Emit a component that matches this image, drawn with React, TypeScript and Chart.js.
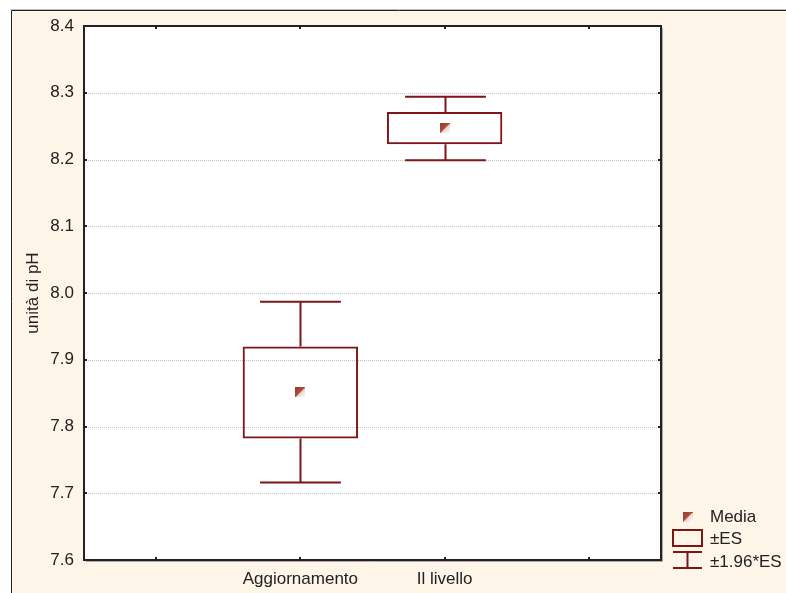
import React, { useEffect, useRef } from 'react';
import { Chart, registerables } from 'chart.js';

Chart.register(...registerables);

// ---- data ----
const categories = ['', 'Aggiornamento', 'Il livello', ''];
const meanValues = [null, 7.852, 8.247, null];
const boxLow = [null, 7.782, 8.223, null];
const boxHigh = [null, 7.920, 8.271, null];
const whiskerLow = [null, 7.716, 8.199, null];
const whiskerHigh = [null, 7.987, 8.294, null];
const yMin = 7.6;
const yMax = 8.4;
const yStep = 0.1;
const yTitle = 'unità di pH';
const legendLabels = ['Media', '±ES', '±1.96*ES'];

const BOX_COLOR = '#7e1518';
const TEXT_COLOR = '#222222';
const CREAM = '#fdf5e8';
const FONT = 'Arial, "Liberation Sans", sans-serif';

function makeMarker(): HTMLCanvasElement {
  const c = document.createElement('canvas');
  c.width = 10;
  c.height = 10;
  const g = c.getContext('2d')!;
  const grad = g.createLinearGradient(0, 0, 10, 10);
  grad.addColorStop(0, '#963a2c');
  grad.addColorStop(0.55, '#ad5242');
  grad.addColorStop(0.55, '#ecd2cb');
  grad.addColorStop(1, '#ffffff');
  g.fillStyle = grad;
  g.fillRect(0, 0, 10, 10);
  return c;
}

export default function App() {
  const ref = useRef<HTMLCanvasElement | null>(null);

  useEffect(() => {
    document.body.style.margin = '0';
    const canvas = ref.current!;
    const marker = makeMarker();

    const framePlugin = {
      id: 'framePlugin',
      beforeDraw(chart: any) {
        const { ctx, chartArea: a, width, height } = chart;
        ctx.save();
        ctx.fillStyle = '#ffffff';
        ctx.fillRect(0, 0, width, height);
        ctx.fillStyle = CREAM;
        ctx.fillRect(12, 11, width - 12, height - 11);
        ctx.strokeStyle = '#bbbbbb';
        ctx.lineWidth = 1;
        ctx.beginPath();
        ctx.moveTo(10.5, 9.5);
        ctx.lineTo(width, 9.5);
        ctx.stroke();
        ctx.strokeStyle = '#222222';
        ctx.beginPath();
        ctx.moveTo(11.5, height);
        ctx.lineTo(11.5, 10.5);
        ctx.lineTo(width, 10.5);
        ctx.stroke();
        ctx.fillStyle = '#ffffff';
        ctx.fillRect(a.left, a.top, a.right - a.left, a.bottom - a.top);
        ctx.restore();
      },
      beforeDatasetsDraw(chart: any) {
        const { ctx, chartArea: a } = chart;
        const ys = chart.scales.y;
        ctx.save();
        ctx.strokeStyle = '#c2c2c2';
        ctx.lineWidth = 1;
        ctx.setLineDash([1, 1]);
        ctx.beginPath();
        ys.ticks.forEach((t: any) => {
          if (t.value <= yMin || t.value >= yMax) return;
          const y = Math.round(ys.getPixelForValue(t.value)) + 0.5;
          ctx.moveTo(a.left, y);
          ctx.lineTo(a.right, y);
        });
        ctx.stroke();
        ctx.restore();
      },
      afterDatasetsDraw(chart: any) {
        const { ctx } = chart;
        const xs = chart.scales.x;
        const ys = chart.scales.y;
        const meta = chart.getDatasetMeta(0);
        ctx.save();
        ctx.strokeStyle = BOX_COLOR;
        ctx.lineWidth = 2;
        categories.forEach((_, i) => {
          if (whiskerHigh[i] == null) return;
          const el = meta.data[i];
          const half = (el ? el.width : 100) * 0.35;
          const x = Math.round(xs.getPixelForValue(i)) + 0.5;
          const yTop = ys.getPixelForValue(whiskerHigh[i]);
          const yBot = ys.getPixelForValue(whiskerLow[i]);
          const bTop = ys.getPixelForValue(boxHigh[i]);
          const bBot = ys.getPixelForValue(boxLow[i]);
          ctx.beginPath();
          ctx.moveTo(x, yTop);
          ctx.lineTo(x, bTop);
          ctx.moveTo(x, bBot);
          ctx.lineTo(x, yBot);
          ctx.moveTo(x - half, yTop);
          ctx.lineTo(x + half, yTop);
          ctx.moveTo(x - half, yBot);
          ctx.lineTo(x + half, yBot);
          ctx.stroke();
        });
        ctx.restore();
      },
      afterDraw(chart: any) {
        const { ctx, chartArea: a } = chart;
        const xs = chart.scales.x;
        const ys = chart.scales.y;
        ctx.save();
        // shadow
        ctx.strokeStyle = '#aaaaaa';
        ctx.lineWidth = 1;
        ctx.beginPath();
        ctx.moveTo(a.right + 1.5, a.top + 2);
        ctx.lineTo(a.right + 1.5, a.bottom + 1.5);
        ctx.lineTo(a.left + 2, a.bottom + 1.5);
        ctx.stroke();
        // plot border
        ctx.strokeStyle = '#222222';
        ctx.lineWidth = 2;
        ctx.strokeRect(a.left, a.top, a.right - a.left, a.bottom - a.top);
        // inward ticks
        ctx.lineWidth = 2;
        ctx.beginPath();
        ys.ticks.forEach((t: any) => {
          const y = Math.round(ys.getPixelForValue(t.value));
          ctx.moveTo(a.left, y);
          ctx.lineTo(a.left + 3, y);
          ctx.moveTo(a.right, y);
          ctx.lineTo(a.right - 3, y);
        });
        categories.forEach((_, i) => {
          const x = Math.round(xs.getPixelForValue(i));
          ctx.moveTo(x, a.top);
          ctx.lineTo(x, a.top + 3);
          ctx.moveTo(x, a.bottom);
          ctx.lineTo(x, a.bottom - 3);
        });
        ctx.stroke();

        // legend
        const lx = 673;
        const lw = 29;
        const tx = 710;
        ctx.drawImage(marker, lx + lw / 2 - 5, 512);
        ctx.strokeStyle = BOX_COLOR;
        ctx.lineWidth = 2;
        ctx.strokeRect(lx, 530, lw, 16);
        ctx.beginPath();
        ctx.moveTo(lx, 552);
        ctx.lineTo(lx + lw, 552);
        ctx.moveTo(lx + lw / 2, 552);
        ctx.lineTo(lx + lw / 2, 568);
        ctx.moveTo(lx, 568);
        ctx.lineTo(lx + lw, 568);
        ctx.stroke();
        ctx.fillStyle = TEXT_COLOR;
        ctx.font = `17px ${FONT}`;
        ctx.textAlign = 'left';
        ctx.textBaseline = 'alphabetic';
        ctx.fillText(legendLabels[0], tx, 522);
        ctx.fillText(legendLabels[1], tx, 544);
        ctx.fillText(legendLabels[2], tx, 567);
        ctx.restore();
      },
    };

    const chart = new Chart(canvas, {
      type: 'bar',
      data: {
        labels: categories,
        datasets: [
          {
            type: 'bar',
            label: legendLabels[1],
            data: boxLow.map((lo, i) => (lo == null ? null : [lo, boxHigh[i] as number])) as any,
            backgroundColor: 'rgba(255,255,255,0)',
            borderColor: BOX_COLOR,
            borderWidth: 2,
            borderSkipped: false,
            barPercentage: 0.8,
            categoryPercentage: 1,
            order: 2,
          },
          {
            type: 'line',
            label: legendLabels[0],
            data: meanValues as any,
            showLine: false,
            pointStyle: marker as any,
            pointRadius: 5,
            order: 0,
          } as any,
        ],
      },
      options: {
        responsive: false,
        animation: false,
        events: [],
        layout: { padding: { left: 0, top: 26, right: 125, bottom: 0 } },
        plugins: { legend: { display: false }, tooltip: { enabled: false } },
        scales: {
          x: {
            type: 'category',
            offset: true,
            grid: { display: false, drawTicks: false },
            border: { display: false },
            ticks: {
              color: TEXT_COLOR,
              font: { family: FONT, size: 17 },
              padding: 9,
              maxRotation: 0,
              autoSkip: false,
            },
            afterFit: (s: any) => {
              s.height = 33;
            },
          },
          y: {
            min: yMin,
            max: yMax,
            grid: { display: false, drawTicks: false },
            border: { display: false },
            ticks: {
              stepSize: yStep,
              color: TEXT_COLOR,
              font: { family: FONT, size: 17 },
              padding: 10,
              callback: (v: any) => Number(v).toFixed(1),
            },
            title: {
              display: true,
              text: yTitle,
              color: TEXT_COLOR,
              font: { family: FONT, size: 17 },
              padding: { top: 23, bottom: 0 },
            },
            afterFit: (s: any) => {
              s.width = 84;
            },
          },
        },
      },
      plugins: [framePlugin],
    });

    return () => chart.destroy();
  }, []);

  return (
    <div style={{ position: 'fixed', left: 0, top: 0, width: 786, height: 593 }}>
      <canvas ref={ref} width={786} height={593} style={{ width: 786, height: 593 }} />
    </div>
  );
}
